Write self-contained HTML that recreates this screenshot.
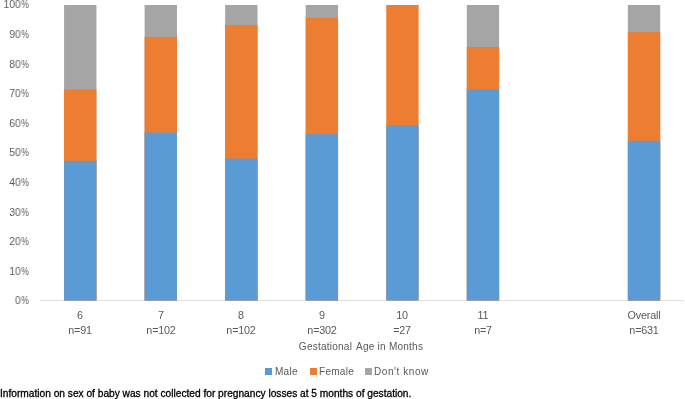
<!DOCTYPE html>
<html><head><meta charset="utf-8"><style>
html,body{margin:0;padding:0;background:#fff;}
body{width:685px;height:399px;overflow:hidden;position:relative;font-family:"Liberation Sans",sans-serif;}
div{will-change:transform;}
svg{position:absolute;left:0;top:0;}
.yl{position:absolute;left:0;width:28.2px;text-align:right;font-size:10.8px;line-height:12px;color:#595959;white-space:nowrap;letter-spacing:0.0px;transform:scaleX(0.95);transform-origin:right;}
.p{display:inline-block;transform:scaleX(0.82);transform-origin:left;margin-left:0.6px;margin-right:-2.3px;}
.xl{position:absolute;width:80px;text-align:center;font-size:10.8px;line-height:12px;color:#595959;white-space:nowrap;letter-spacing:-0.2px;}
.tt{position:absolute;left:261.4px;width:200px;text-align:center;top:340.6px;font-size:10.05px;line-height:12px;color:#595959;white-space:nowrap;letter-spacing:0.22px;word-spacing:0px;}
.lg{position:absolute;top:365.6px;font-size:10.05px;line-height:12px;color:#595959;white-space:nowrap;letter-spacing:0.25px;}
.sq{position:absolute;width:6.7px;height:6.8px;top:368px;}
.fn{position:absolute;left:0;top:387.8px;font-size:10.2px;line-height:12px;color:#000;white-space:nowrap;letter-spacing:-0.01px;-webkit-text-stroke:0.3px #000;}
</style></head><body>
<svg width="685" height="399" viewBox="0 0 685 399">
<line x1="40" y1="300.50" x2="684" y2="300.50" stroke="#E0E0DD" stroke-width="1"/>
<rect x="64.075" y="5.000" width="32.350" height="295.500" fill="#A5A5A5"/>
<rect x="64.075" y="89.429" width="32.350" height="211.071" fill="#ED7D31"/>
<rect x="64.075" y="160.868" width="32.350" height="139.632" fill="#5B9BD5"/>
<rect x="144.615" y="5.000" width="32.350" height="295.500" fill="#A5A5A5"/>
<rect x="144.615" y="36.868" width="32.350" height="263.632" fill="#ED7D31"/>
<rect x="144.615" y="132.471" width="32.350" height="168.029" fill="#5B9BD5"/>
<rect x="225.155" y="5.000" width="32.350" height="295.500" fill="#A5A5A5"/>
<rect x="225.155" y="24.950" width="32.350" height="275.550" fill="#ED7D31"/>
<rect x="225.155" y="158.544" width="32.350" height="141.956" fill="#5B9BD5"/>
<rect x="305.695" y="5.000" width="32.350" height="295.500" fill="#A5A5A5"/>
<rect x="305.695" y="17.720" width="32.350" height="282.780" fill="#ED7D31"/>
<rect x="305.695" y="134.159" width="32.350" height="166.341" fill="#5B9BD5"/>
<rect x="386.235" y="5.000" width="32.350" height="295.500" fill="#ED7D31"/>
<rect x="386.235" y="125.100" width="32.350" height="175.400" fill="#5B9BD5"/>
<rect x="466.775" y="5.000" width="32.350" height="295.500" fill="#A5A5A5"/>
<rect x="466.775" y="46.950" width="32.350" height="253.550" fill="#ED7D31"/>
<rect x="466.775" y="89.429" width="32.350" height="211.071" fill="#5B9BD5"/>
<rect x="627.855" y="5.000" width="32.350" height="295.500" fill="#A5A5A5"/>
<rect x="627.855" y="32.162" width="32.350" height="268.338" fill="#ED7D31"/>
<rect x="627.855" y="140.808" width="32.350" height="159.692" fill="#5B9BD5"/>
</svg>
<div class="yl" style="top:294.20px">0<span class="p">%</span></div>
<div class="yl" style="top:264.65px">10<span class="p">%</span></div>
<div class="yl" style="top:235.10px">20<span class="p">%</span></div>
<div class="yl" style="top:205.55px">30<span class="p">%</span></div>
<div class="yl" style="top:176.00px">40<span class="p">%</span></div>
<div class="yl" style="top:146.45px">50<span class="p">%</span></div>
<div class="yl" style="top:116.90px">60<span class="p">%</span></div>
<div class="yl" style="top:87.35px">70<span class="p">%</span></div>
<div class="yl" style="top:57.80px">80<span class="p">%</span></div>
<div class="yl" style="top:28.25px">90<span class="p">%</span></div>
<div class="yl" style="top:-2.50px">100<span class="p">%</span></div>
<div class="xl" style="left:40.25px;top:309px">6</div>
<div class="xl" style="left:40.25px;top:324px">n=91</div>
<div class="xl" style="left:120.79px;top:309px">7</div>
<div class="xl" style="left:120.79px;top:324px">n=102</div>
<div class="xl" style="left:201.33px;top:309px">8</div>
<div class="xl" style="left:201.33px;top:324px">n=102</div>
<div class="xl" style="left:281.87px;top:309px">9</div>
<div class="xl" style="left:281.87px;top:324px">n=302</div>
<div class="xl" style="left:362.41px;top:309px">10</div>
<div class="xl" style="left:362.41px;top:324px">=27</div>
<div class="xl" style="left:442.95px;top:309px">11</div>
<div class="xl" style="left:442.95px;top:324px">n=7</div>
<div class="xl" style="left:604.03px;top:309px">Overall</div>
<div class="xl" style="left:604.03px;top:324px">n=631</div>
<div class="tt">Gestational<span style="margin-left:1.5px"> </span>Age in Months</div>
<div class="sq" style="left:265.3px;background:#5B9BD5"></div>
<div class="lg" style="left:274.8px">Male</div>
<div class="sq" style="left:309.95px;background:#ED7D31"></div>
<div class="lg" style="left:319.3px">Female</div>
<div class="sq" style="left:365px;background:#A5A5A5"></div>
<div class="lg" style="left:374.4px;letter-spacing:0.55px">Don't know</div>
<div class="fn">Information on sex of baby was not collected for pregnancy losses at 5 months of gestation.</div>
</body></html>
